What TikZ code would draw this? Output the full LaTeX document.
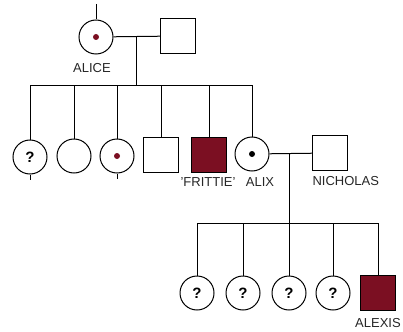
\documentclass[tikz,border=0pt]{standalone}
\usepackage{fontspec}
\setmainfont{Liberation Sans}
\usepackage{tikz}
\usetikzlibrary{positioning}
\definecolor{affected}{HTML}{7B0F22}

\begin{document}
\begin{tikzpicture}[
      x=1pt, y=-1pt,
      every node/.style={font=\fontsize{13}{14}\selectfont},
      line width=1pt,
      female/.style={draw, circle, minimum size=34pt, inner sep=0pt},
      male/.style={draw, rectangle, minimum size=35pt, inner sep=0pt},
      sick/.style={male, fill=affected},
      unknown/.style={female, font=\fontsize{15}{15}\selectfont\bfseries},
      dot/.style={circle, fill=#1, minimum size=6pt, inner sep=0pt},
      lbl/.style={inner sep=0pt, text=black!85}
    ]
    \useasboundingbox (0,0) rectangle (403,331);
    % first generation
    \node[female] (alice) at (96,37) {};
    \node[dot=affected] (alicedot) at (alice.center) {};
    \node[male] (husband) at (178,36) {};
    \node[lbl] (alicename) at (92,68) {ALICE};
    \coordinate (alicetop) at (96,4);
    \coordinate (m1) at (136,37);
    \coordinate (sib) at (136,86);
    \draw (alicetop) -- (alice);
    \draw (alice) -- (husband);
    \draw (m1) -- (sib);

    % second generation
    \node[unknown] (c1) at (30,157) {?};
    \node[female] (c2) at (74,156) {};
    \node[female] (c3) at (117,156) {};
    \node[dot=affected] (c3dot) at (c3.center) {};
    \node[male] (s4) at (161,155) {};
    \node[sick] (frittie) at (209,155) {};
    \node[female] (alix) at (252,154) {};
    \node[dot=black] (alixdot) at (alix.center) {};
    \node[male] (nicholas) at (330,153) {};
    \node[lbl] (frittiename) at (208,182) {'FRITTIE'};
    \node[lbl] (alixname) at (260,182) {ALIX};
    \node[lbl, anchor=west] (nicholasname) at (312,181) {NICHOLAS};
    \draw (c1.north) |- (alix.north |- sib) -- (alix.north);
    \foreach \n in {c2,c3,s4,frittie}
      \draw (\n.north) -- (\n.north |- sib);
    \coordinate (c1tail) at (30,180);
    \coordinate (c3tail) at (117,179);
    \draw (c1) -- (c1tail);
    \draw (c3) -- (c3tail);

    % third generation
    \coordinate (m2) at (289,153);
    \coordinate (kids) at (289,223);
    \draw (alix) -- (nicholas);
    \draw (m2) -- (kids);
    \node[unknown] (d1) at (197,293) {?};
    \node[unknown] (d2) at (243,293) {?};
    \node[unknown] (d3) at (289,293) {?};
    \node[unknown] (d4) at (333,293) {?};
    \node[sick] (alexis) at (378,293) {};
    \node[lbl] (alexisname) at (378,323) {ALEXIS};
    \draw (d1.north) |- (alexis.north |- kids) -- (alexis.north);
    \foreach \n in {d2,d3,d4}
      \draw (\n.north) -- (\n.north |- kids);
  \end{tikzpicture}
\end{document}
